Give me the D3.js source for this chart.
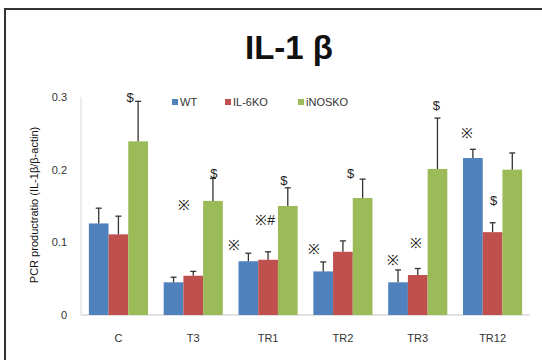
<!DOCTYPE html>
<html>
  <head>
    <script src="https://d3js.org/d3.v7.min.js"></script>
    <style>
      body { margin: 0; background: #fff; }
      text { font-family: "Liberation Sans", Arial, sans-serif; }
      .tick-label { font-size: 11px; fill: #333; }
      .legend text { font-size: 11px; fill: #333; }
      .mark { font-size: 13px; fill: #222; }
    </style>
  </head>
  <body>
    <svg width="542" height="360"></svg>
    <script>
      const categories = ["C", "T3", "TR1", "TR2", "TR3", "TR12"];
      const seriesNames = ["WT", "IL-6KO", "iNOSKO"];
      const wtValues = [0.126, 0.045, 0.074, 0.060, 0.045, 0.216];
      const wtErrors = [0.021, 0.007, 0.011, 0.013, 0.017, 0.012];
      const il6Values = [0.111, 0.054, 0.076, 0.087, 0.055, 0.114];
      const il6Errors = [0.025, 0.006, 0.011, 0.015, 0.009, 0.013];
      const inosValues = [0.239, 0.157, 0.150, 0.161, 0.201, 0.200];
      const inosErrors = [0.055, 0.031, 0.025, 0.026, 0.070, 0.023];
      const yTicks = [0, 0.1, 0.2, 0.3];
      // significance marks: [category, series, text, value, dx]
      const marks = [
        ["C", 2, "$", 0.300, -8],
        ["T3", 0, "※", 0.151, 10],
        ["T3", 2, "$", 0.195, 1],
        ["TR1", 0, "※", 0.096, -14],
        ["TR1", 1, "※#", 0.131, -3],
        ["TR1", 2, "$", 0.186, -4],
        ["TR2", 0, "※", 0.091, -9],
        ["TR2", 2, "$", 0.195, -12],
        ["TR3", 0, "※", 0.076, -5],
        ["TR3", 1, "※", 0.099, -2],
        ["TR3", 2, "$", 0.289, -1],
        ["TR12", 0, "※", 0.250, -6],
        ["TR12", 1, "$", 0.158, 1]
      ];

      const colors = ["#4F81BD", "#C0504D", "#9BBB59"];
      const values = [wtValues, il6Values, inosValues];
      const errors = [wtErrors, il6Errors, inosErrors];

      const svg = d3.select("svg");

      // frame
      svg.append("rect")
        .attr("x", 5).attr("y", 9)
        .attr("width", 560).attr("height", 380)
        .attr("fill", "none")
        .attr("stroke", "#333")
        .attr("stroke-width", 2);

      svg.append("text")
        .attr("x", 289).attr("y", 59)
        .attr("text-anchor", "middle")
        .style("font-size", "33px")
        .style("font-weight", "bold")
        .attr("fill", "#111")
        .text("IL-1 β");

      const x0 = d3.scaleBand()
        .domain(categories)
        .range([81, 530])
        .paddingInner(0.21)
        .paddingOuter(0.105);
      const x1 = d3.scaleBand()
        .domain(d3.range(3))
        .range([0, x0.bandwidth()]);
      const y = d3.scaleLinear().domain([0, 0.3]).range([315, 97]);

      // axes lines
      svg.append("line")
        .attr("x1", 81).attr("x2", 81)
        .attr("y1", y(0.3)).attr("y2", y(0))
        .attr("stroke", "#d9d9d9");
      svg.append("line")
        .attr("x1", 81).attr("x2", 530)
        .attr("y1", y(0)).attr("y2", y(0))
        .attr("stroke", "#d9d9d9").attr("stroke-width", 1.5);

      svg.selectAll(".ylab")
        .data(yTicks)
        .enter().append("text")
          .attr("class", "tick-label")
          .attr("x", 67)
          .attr("y", d => y(d) + 4)
          .attr("text-anchor", "end")
          .text(d => d === 0 ? "0" : d.toFixed(1));

      svg.selectAll(".xlab")
        .data(categories)
        .enter().append("text")
          .attr("class", "tick-label")
          .attr("x", d => x0(d) + x0.bandwidth() / 2)
          .attr("y", 342)
          .attr("text-anchor", "middle")
          .text(d => d);

      svg.append("text")
        .attr("transform", "translate(38,205) rotate(-90)")
        .attr("text-anchor", "middle")
        .style("font-size", "11px")
        .attr("fill", "#111")
        .text("PCR productratio (IL-1β/β-actin)");

      const bars = [];
      categories.forEach((c, i) => {
        values.forEach((vals, s) => {
          bars.push({ c, s, v: vals[i], e: errors[s][i] });
        });
      });

      svg.selectAll(".bar")
        .data(bars)
        .enter().append("rect")
          .attr("x", d => x0(d.c) + x1(d.s))
          .attr("y", d => y(d.v))
          .attr("width", x1.bandwidth())
          .attr("height", d => y(0) - y(d.v))
          .attr("fill", d => colors[d.s]);

      const errG = svg.selectAll(".err")
        .data(bars)
        .enter().append("g")
          .attr("transform", d => `translate(${x0(d.c) + x1(d.s) + x1.bandwidth() / 2},0)`);
      errG.append("line")
        .attr("y1", d => y(d.v)).attr("y2", d => y(d.v + d.e))
        .attr("stroke", "#333").attr("stroke-width", 1.3);
      errG.append("line")
        .attr("x1", -3).attr("x2", 3)
        .attr("y1", d => y(d.v + d.e)).attr("y2", d => y(d.v + d.e))
        .attr("stroke", "#333").attr("stroke-width", 1.3);

      svg.selectAll(".mark")
        .data(marks)
        .enter().append("text")
          .attr("class", "mark")
          .attr("x", d => x0(d[0]) + x1(d[1]) + x1.bandwidth() / 2 + d[4])
          .attr("y", d => y(d[3]) + 5)
          .attr("text-anchor", "middle")
          .style("font-size", d => d[2] === "$" ? "13px" : "14px")
          .text(d => d[2]);

      const legend = svg.append("g")
        .attr("class", "legend")
        .attr("transform", "translate(172,99)");
      const legendX = [0, 53, 126];
      const items = legend.selectAll("g")
        .data(seriesNames)
        .enter().append("g")
          .attr("transform", (d, i) => `translate(${legendX[i]},0)`);
      items.append("rect")
        .attr("width", 6).attr("height", 6)
        .attr("fill", (d, i) => colors[i]);
      items.append("text")
        .attr("x", 8).attr("y", 7)
        .text(d => d);
    </script>
  </body>
</html>
